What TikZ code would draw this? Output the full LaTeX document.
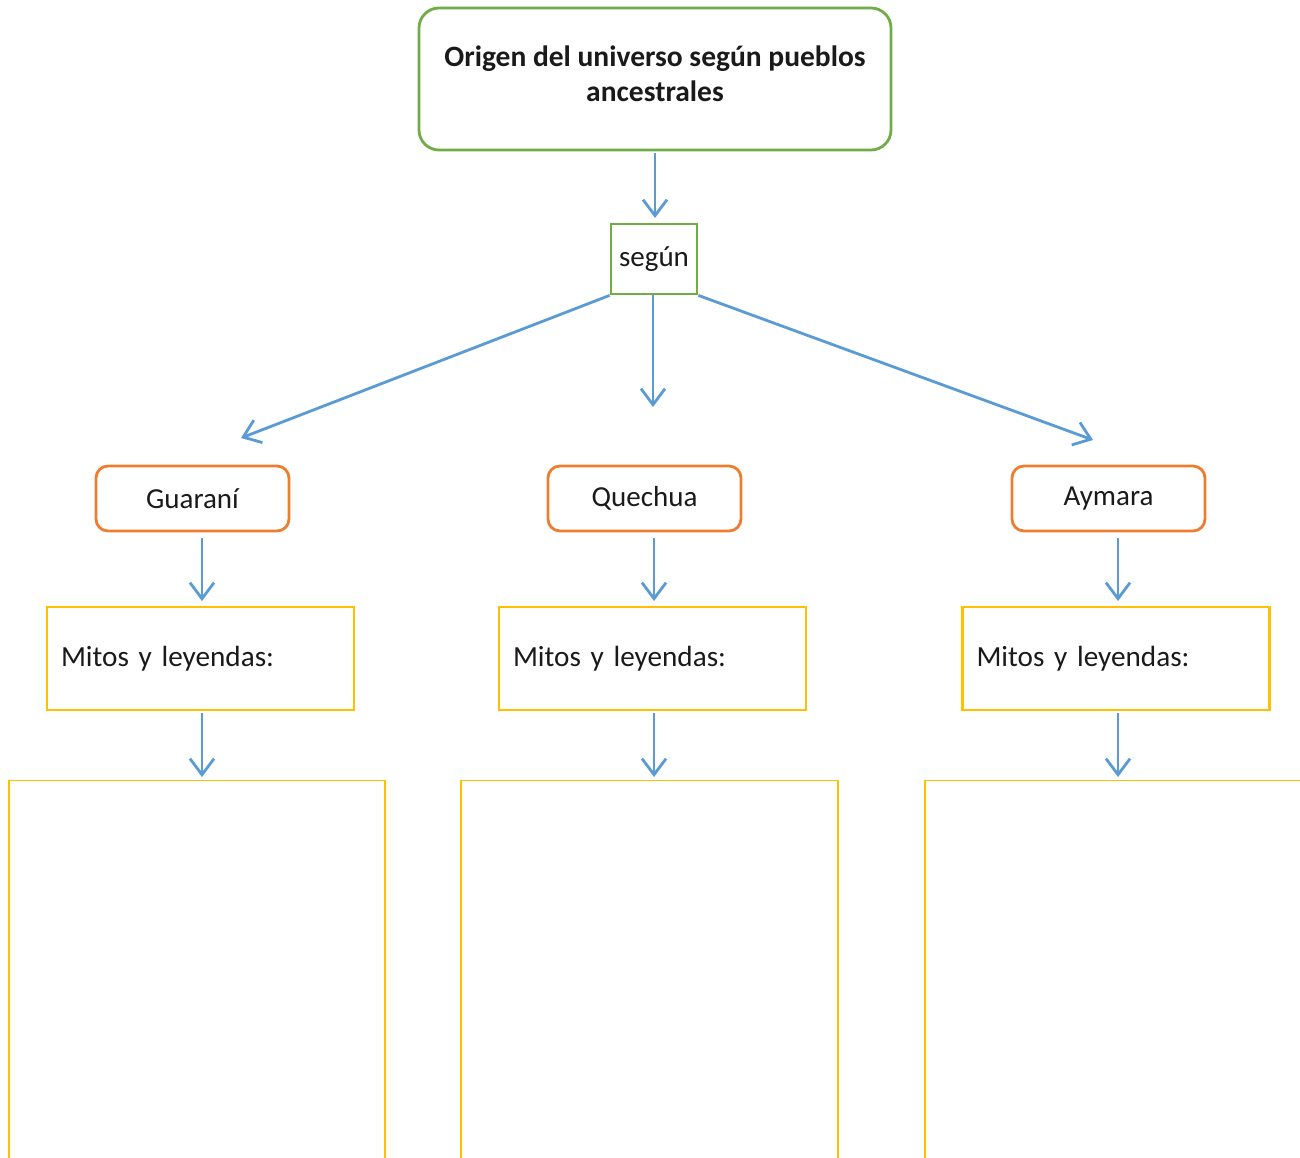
\documentclass[tikz,border=0pt]{standalone}
\usepackage{fontspec}
\setmainfont{Carlito}
\newfontfamily\mitofont[WordSpace=0.7]{Carlito}
\usetikzlibrary{arrows.meta}
\definecolor{cgreen}{HTML}{70AD47}
\definecolor{corange}{HTML}{ED7D31}
\definecolor{cyellow}{HTML}{FFC000}
\definecolor{cblue}{HTML}{5B9BD5}
\definecolor{ctext}{HTML}{1A1A1A}
\tikzset{
  titlebox/.style={draw=cgreen, line width=2.8pt, rounded corners=20pt, minimum width=472pt, minimum height=142pt, inner sep=0pt},
  titletext/.style={align=center, text=ctext, inner sep=0pt, font=\fontsize{29.5}{35}\selectfont\bfseries},
  segbox/.style={draw=cgreen, line width=2.8pt, minimum width=86pt, minimum height=70pt, inner sep=0pt, text=ctext, font=\fontsize{29}{30}\selectfont},
  puebbox/.style={draw=corange, line width=2.8pt, rounded corners=12pt, minimum width=193pt, minimum height=65pt, inner sep=0pt, text=ctext, font=\fontsize{29}{30}\selectfont},
  mitobox/.style={draw=cyellow, line width=2.8pt, minimum width=307pt, minimum height=103pt, inner xsep=14pt, inner ysep=0pt, text width=279pt, align=left, text=ctext, font=\mitofont\fontsize{29.2}{30}\selectfont},
  openbox/.style={draw=cyellow, line width=1.2pt, minimum height=420pt, inner sep=0pt, anchor=north},
  conn/.style={draw=cblue, line width=2.8pt, -{Straight Barb[length=16pt, width=24pt, line width=2.8pt]}}
}
\begin{document}
\begin{tikzpicture}[x=1pt, y=-1pt]
\clip (0,0) rectangle (1300,1158);
\fill[white] (0,0) rectangle (1300,1158);

\node[titlebox, label={[titletext, yshift=5pt]center:{Origen del universo según pueblos\\ancestrales}}] (title) at (655,79) {};
\node[segbox] (seg) at (654,259) {según};

\node[puebbox] (gua) at (192.5,498.5) {Guaraní};
\node[puebbox] (que) at (644.5,498.5) {Quechua};
\node[puebbox] (aym) at (1108.5,498.5) {Aymara};

\node[mitobox] (m1) at (200.5,658.5) {Mitos y leyendas:};
\node[mitobox] (m2) at (652.5,658.5) {Mitos y leyendas:};
\node[mitobox] (m3) at (1116,658.5) {Mitos y leyendas:};

\node[openbox, minimum width=376pt] (b1) at (197,780) {};
\node[openbox, minimum width=377pt] (b2) at (649.5,780) {};
\node[openbox, minimum width=390pt] (b3) at (1120,780) {};

\coordinate (tL) at (241,438);
\coordinate (tR) at (1093,440);

% title -> según
\draw[conn] (655,153) -- (655,218);
% según -> branches
\draw[conn] (seg.south west) -- (tL);
\draw[conn] (seg.south) ++(-1,0) -- (653,407);
\draw[conn] (seg.south east) -- (tR);
% pueblos -> mitos
\draw[conn] (202,538) -- (202,601);
\draw[conn] (654,538) -- (654,601);
\draw[conn] (1118,538) -- (1118,601);
% mitos -> open boxes
\draw[conn] (202,713) -- (202,777);
\draw[conn] (654,713) -- (654,777);
\draw[conn] (1118,713) -- (1118,777);
\end{tikzpicture}
\end{document}
